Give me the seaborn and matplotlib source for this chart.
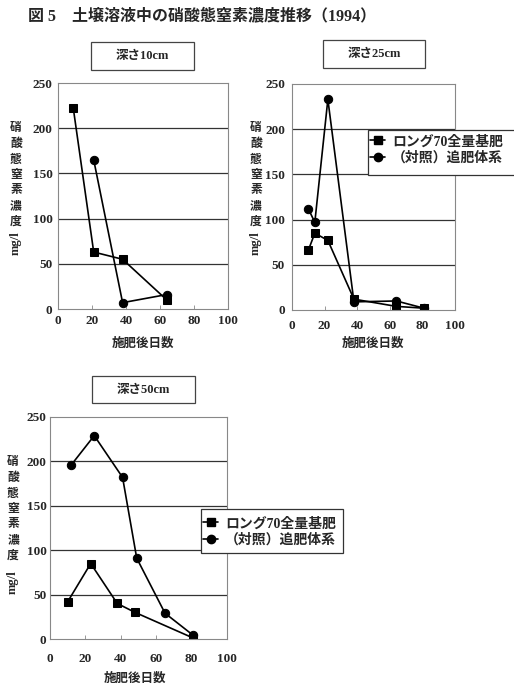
import matplotlib
matplotlib.use("Agg")
import matplotlib.pyplot as plt
import seaborn as sns
import pandas as pd
from matplotlib.patches import Rectangle
from matplotlib.lines import Line2D

sns.set_style("white")
plt.rcParams['font.family'] = ['Liberation Serif', 'Noto Sans CJK JP', 'DejaVu Sans']

# ---- data ----
title = "図 5　土壌溶液中の硝酸態窒素濃度推移（1994）"
panel_titles = ["深さ10cm", "深さ25cm", "深さ50cm"]
series_names = ["ロング70全量基肥", "（対照）追肥体系"]
xlabel = "施肥後日数"
ylabel_chars = "硝酸態窒素濃度"
ylabel_unit = "mg/l"
xticks = [0, 20, 40, 60, 80, 100]
yticks = [0, 50, 100, 150, 200, 250]

p1_sq_x = [9, 21, 38, 64]
p1_sq_y = [222, 63, 55, 10]
p1_ci_x = [21, 38, 64]
p1_ci_y = [165, 7, 16]

p2_sq_x = [10, 14, 22, 38, 64, 81]
p2_sq_y = [66, 85, 77, 12, 4, 2]
p2_ci_x = [10, 14, 22, 38, 64, 81]
p2_ci_y = [112, 97, 233, 9, 10, 2]

p3_sq_x = [10, 23, 38, 48, 81]
p3_sq_y = [42, 85, 40, 30, 1]
p3_ci_x = [12, 25, 41, 49, 65, 81]
p3_ci_y = [196, 229, 182, 91, 29, 4]

W, H = 514, 689
fig = plt.figure(figsize=(W / 100, H / 100), dpi=100)
fig.patch.set_facecolor("white")


def fx(px):
    return px / W


def fy(py):
    return 1 - py / H


def make_axes(left, top, right, bottom):
    return fig.add_axes([fx(left), fy(bottom), fx(right - left), (bottom - top) / H])


def frame_box(l, t, r, b, lw=0.9, color="#444444"):
    fig.patches.append(Rectangle((fx(l), fy(b)), fx(r - l), (b - t) / H,
                                 transform=fig.transFigure, fill=False,
                                 edgecolor=color, linewidth=lw, zorder=5))


panels = [
    dict(box=(58, 83, 228, 309), data=[(p1_sq_x, p1_sq_y), (p1_ci_x, p1_ci_y)],
         tbox=(91, 42, 194, 70), ylab_x=16, ylab_top=128, unit_y=243, xlab=(143, 343),
         xpad=4, ypad=4),
    dict(box=(292, 84, 455, 310), data=[(p2_sq_x, p2_sq_y), (p2_ci_x, p2_ci_y)],
         tbox=(323, 40, 425, 68), ylab_x=256, ylab_top=128, unit_y=243, xlab=(373, 343),
         xpad=7, ypad=5, lbox=(368, 130, 520, 175), lanchor=(370, 135)),
    dict(box=(50, 417, 227, 639), data=[(p3_sq_x, p3_sq_y), (p3_ci_x, p3_ci_y)],
         tbox=(92, 376, 195, 403), ylab_x=13, ylab_top=462, unit_y=582, xlab=(135, 678),
         xpad=10, ypad=2.5, lbox=(201, 509, 343, 553), lanchor=(203, 517)),
]

markers = ["s", "o"]

for i, p in enumerate(panels):
    ax = make_axes(*p["box"])
    for (xs, ys), mk, name in zip(p["data"], markers, series_names):
        df = pd.DataFrame({"x": xs, "y": ys})
        sns.lineplot(data=df, x="x", y="y", ax=ax, color="black", linewidth=1.2,
                     marker=mk, markersize=6, markeredgecolor="black",
                     markerfacecolor="black", sort=False, legend=False)
    ax.set_xlim(0, 100)
    ax.set_ylim(0, 250)
    ax.set_xticks(xticks)
    ax.set_yticks(yticks)
    ax.set_xticklabels([str(t) for t in xticks], fontsize=9.5, fontweight="bold",
                       family="Liberation Serif")
    ax.set_yticklabels([str(t) for t in yticks], fontsize=9.5, fontweight="bold",
                       family="Liberation Serif")
    ax.tick_params(axis="x", direction="in", length=3, width=0.6, color="#888888",
                   pad=p["xpad"], bottom=True)
    ax.tick_params(axis="y", length=0, pad=p["ypad"])
    ax.set_xlabel("")
    ax.set_ylabel("")
    for yv in [50, 100, 150, 200]:
        ax.axhline(yv, color="#333333", linewidth=0.9, zorder=0)
    for s in ax.spines.values():
        s.set_color("#888888")
        s.set_linewidth(0.8)

    # panel title box
    l, t, r, b = p["tbox"]
    frame_box(l, t, r, b)
    fig.text(fx((l + r) / 2), fy((t + b) / 2), panel_titles[i], ha="center", va="center",
             fontsize=9, fontweight="bold",
             family=["Liberation Serif", "Noto Sans CJK JP"])

    # stacked vertical y label
    for k, ch in enumerate(ylabel_chars):
        fig.text(fx(p["ylab_x"]), fy(p["ylab_top"] + k * 15.5), ch, ha="center", va="center",
                 fontsize=8.5, fontweight="bold", family="Noto Sans CJK JP")
    fig.text(fx(p["ylab_x"]), fy(p["unit_y"]), ylabel_unit, ha="center", va="center",
             rotation=90, fontsize=9, fontweight="bold", family="Liberation Serif")

    # x label
    fig.text(fx(p["xlab"][0]), fy(p["xlab"][1]), xlabel, ha="center", va="center",
             fontsize=9, fontweight="bold", family="Noto Sans CJK JP")

    if "lbox" in p:
        l, t, r, b = p["lbox"]
        fig.patches.append(Rectangle((fx(l), fy(b)), fx(r - l), (b - t) / H,
                                     transform=fig.transFigure, facecolor="white",
                                     edgecolor="#333333", linewidth=0.9, zorder=4))
        handles = [Line2D([0], [0], color="black", marker=m, markersize=6, linewidth=1.2)
                   for m in markers]
        lg = fig.legend(handles, series_names, loc="upper left",
                        bbox_to_anchor=(fx(p["lanchor"][0]), fy(p["lanchor"][1])),
                        frameon=False, handlelength=1.1, handletextpad=0.5, borderpad=0,
                        labelspacing=0.2, borderaxespad=0,
                        prop={"family": ["Liberation Serif", "Noto Sans CJK JP"],
                              "size": 10, "weight": "bold"})
        lg.set_zorder(6)

fig.text(fx(28), fy(16), title, ha="left", va="center", fontsize=11.5, fontweight="bold",
         family=["Liberation Serif", "Noto Sans CJK JP"])

fig.savefig("out.png", dpi=100)
